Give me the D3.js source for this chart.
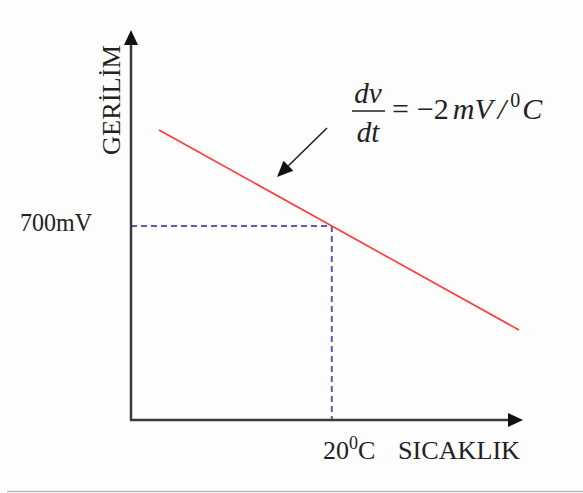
<!DOCTYPE html>
<html>
<head>
<meta charset="utf-8">
<script src="https://cdn.jsdelivr.net/npm/d3@7/dist/d3.min.js"></script>
<style>
  html, body { margin: 0; padding: 0; background: #fdfdfd; }
  svg { display: block; }
  text { font-family: "Liberation Serif", "Times New Roman", serif; fill: #222; }
</style>
</head>
<body>
<svg id="chart" width="583" height="493"></svg>
<script>
// Temperature (°C) and junction voltage (mV) along the characteristic line
const lineTemps = [-28, 72];
const lineVolts = [796, 596];

// Reference operating point
const refTemp = [20];
const refVolt = [700];

// Text labels
const yTitle = "GERİLİM";
const xTitle = "SICAKLIK";
const refVoltLabel = "700mV";

const svg = d3.select("#chart");
const W = 583, H = 493;

// Plot frame (axis origin and arrow tips)
const origin = { x: 131, y: 420 };
const xTip = 523, yTip = 30;

const x = d3.scaleLinear().domain([-28, 72]).range([159, 519]);
const y = d3.scaleLinear().domain([600, 800]).range([326, 126]);

// bottom separator line
svg.append("line")
  .attr("x1", 7).attr("x2", W).attr("y1", 491.5).attr("y2", 491.5)
  .attr("stroke", "#bdbdbd").attr("stroke-width", 1.5);

// dashed guides to the reference point
const guideColor = "#5a5ab8";
svg.append("line")
  .attr("x1", origin.x).attr("x2", x(refTemp[0]))
  .attr("y1", y(refVolt[0])).attr("y2", y(refVolt[0]))
  .attr("stroke", guideColor).attr("stroke-width", 2)
  .attr("stroke-dasharray", "6,4");
svg.append("line")
  .attr("x1", x(refTemp[0])).attr("x2", x(refTemp[0]))
  .attr("y1", y(refVolt[0])).attr("y2", origin.y)
  .attr("stroke", guideColor).attr("stroke-width", 2)
  .attr("stroke-dasharray", "6,4");

// characteristic line
const pts = lineTemps.map((t, i) => [x(t), y(lineVolts[i])]);
svg.append("path")
  .attr("d", d3.line()(pts))
  .attr("fill", "none")
  .attr("stroke", "#ff3838")
  .attr("stroke-width", 1.6);

// axes with arrow heads
const axisColor = "#3a3a3a";
svg.append("line")
  .attr("x1", origin.x).attr("x2", origin.x)
  .attr("y1", origin.y + 1).attr("y2", yTip + 12)
  .attr("stroke", axisColor).attr("stroke-width", 2.5);
svg.append("line")
  .attr("x1", origin.x - 1).attr("x2", xTip - 12)
  .attr("y1", origin.y).attr("y2", origin.y)
  .attr("stroke", axisColor).attr("stroke-width", 2.5);
svg.append("path")
  .attr("d", `M${origin.x},${yTip} L${origin.x + 7},${yTip + 15} L${origin.x - 7},${yTip + 15} Z`)
  .attr("fill", "#111");
svg.append("path")
  .attr("d", `M${xTip},${origin.y} L${xTip - 15},${origin.y - 7} L${xTip - 15},${origin.y + 7} Z`)
  .attr("fill", "#111");

// annotation arrow pointing to the line
const arrowFrom = [327, 128], arrowTo = [277, 177];
const ang = Math.atan2(arrowTo[1] - arrowFrom[1], arrowTo[0] - arrowFrom[0]);
const hl = 16, hw = 7;
const bx = arrowTo[0] - hl * Math.cos(ang), by = arrowTo[1] - hl * Math.sin(ang);
svg.append("line")
  .attr("x1", arrowFrom[0]).attr("y1", arrowFrom[1])
  .attr("x2", bx).attr("y2", by)
  .attr("stroke", "#222").attr("stroke-width", 1.6);
svg.append("path")
  .attr("d", `M${arrowTo[0]},${arrowTo[1]}
     L${bx + hw * Math.sin(ang)},${by - hw * Math.cos(ang)}
     L${bx - hw * Math.sin(ang)},${by + hw * Math.cos(ang)} Z`)
  .attr("fill", "#111");

// axis titles
svg.append("text")
  .attr("transform", `translate(120,155) rotate(-90)`)
  .attr("font-size", 26)
  .attr("textLength", 110).attr("lengthAdjust", "spacingAndGlyphs")
  .text(yTitle);

svg.append("text")
  .attr("x", 398).attr("y", 459)
  .attr("font-size", 26)
  .attr("textLength", 122).attr("lengthAdjust", "spacingAndGlyphs")
  .text(xTitle);

// reference tick labels
svg.append("text")
  .attr("x", 20).attr("y", 231)
  .attr("font-size", 25)
  .attr("textLength", 72).attr("lengthAdjust", "spacingAndGlyphs")
  .text(refVoltLabel);

const tLab = svg.append("text")
  .attr("x", 323).attr("y", 459)
  .attr("font-size", 26);
tLab.append("tspan").text(refTemp[0]);
tLab.append("tspan").attr("dy", -10).attr("font-size", 18).text("0");
tLab.append("tspan").attr("dy", 10).attr("font-size", 26).text("C");

// slope formula dv/dt = -2mV/°C
const f = svg.append("g").attr("font-style", "italic");
f.append("text").attr("x", 368).attr("y", 103).attr("text-anchor", "middle")
  .attr("font-size", 29).text("dv");
f.append("line").attr("x1", 352).attr("x2", 385).attr("y1", 111).attr("y2", 111)
  .attr("stroke", "#222").attr("stroke-width", 1.5);
f.append("text").attr("x", 368).attr("y", 142).attr("text-anchor", "middle")
  .attr("font-size", 29).text("dt");
const eq = f.append("text").attr("x", 392).attr("y", 119).attr("font-size", 30);
eq.append("tspan").attr("font-style", "normal").text("=");
eq.append("tspan").attr("font-style", "normal").attr("dx", 8).text("−2");
eq.append("tspan").attr("dx", 4).text("mV");
eq.append("tspan").attr("dx", 5).text("/");
eq.append("tspan").attr("font-style", "normal").attr("font-size", 20).attr("dx", 4).attr("dy", -12).text("0");
eq.append("tspan").attr("dx", 2).attr("dy", 12).attr("font-size", 30).text("C");
</script>
</body>
</html>
